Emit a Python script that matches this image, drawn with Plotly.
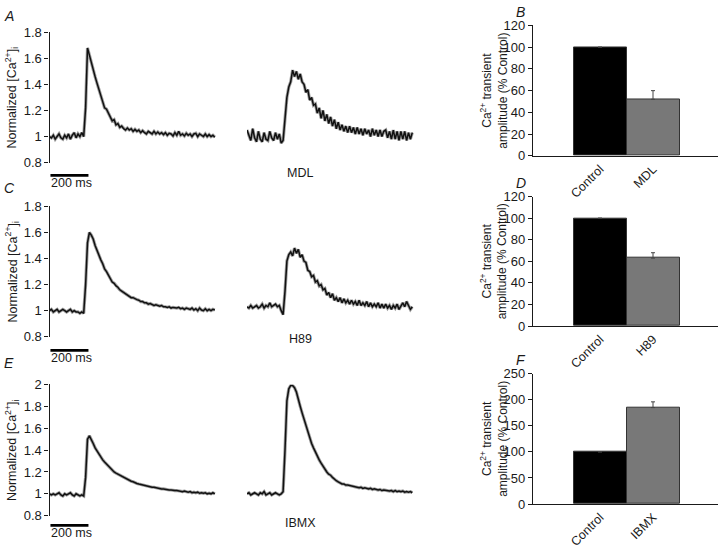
import plotly.graph_objects as go

W, H = 720, 549
DT = 10            # ms per sample
PX_PER_MS = 0.19   # horizontal scale of the traces
FONT = "Liberation Sans, Arial, sans-serif"

# ---------------- data ----------------
ctrl_mdl = [1.00,0.99,1.01,0.98,1.00,1.02,0.99,0.98,1.01,0.99,
            1.02,0.98,1.01,1.03,0.99,1.02,1.00,1.03,1.00,1.22,
            1.68,1.62,1.56,1.52,1.46,1.41,1.36,1.31,1.27,1.22,
            1.21,1.18,1.15,1.12,1.13,1.09,1.10,1.07,1.08,1.06,
            1.05,1.065,1.05,1.06,1.04,1.055,1.04,1.05,1.03,1.045,
            1.03,1.02,1.04,1.03,1.02,1.04,1.02,1.035,1.02,1.03,
            1.015,1.03,1.01,1.025,1.02,1.005,1.03,1.01,1.04,1.01,
            1.02,1.005,1.025,1.01,1.02,1.00,1.02,1.025,1.00,1.02,
            1.01,1.00,1.02,1.00,1.015,1.00,1.01,0.995]
mdl = [1.05,1.01,0.97,1.06,0.99,0.96,1.04,0.98,0.96,1.03,
       0.98,0.97,1.04,0.99,0.97,1.03,0.98,1.02,0.95,0.97,
       1.12,1.30,1.38,1.42,1.51,1.46,1.50,1.44,1.48,1.42,
       1.40,1.34,1.36,1.28,1.30,1.24,1.25,1.18,1.22,1.14,
       1.20,1.12,1.17,1.10,1.15,1.08,1.13,1.06,1.11,1.05,
       1.09,1.04,1.08,1.03,1.08,1.03,1.07,1.02,1.07,1.02,
       1.06,1.01,1.06,1.02,1.05,1.00,1.06,1.01,1.05,1.00,
       1.05,1.00,1.04,1.05,0.99,1.04,0.98,1.05,0.98,1.04,
       0.97,1.04,0.98,1.04,0.97,1.03,0.98,1.03]
ctrl_h89 = [1.00,1.01,0.99,1.00,1.01,0.99,1.00,1.01,1.00,0.99,
            1.00,1.01,0.99,1.00,0.99,0.99,0.98,0.99,0.98,1.20,
            1.52,1.60,1.58,1.55,1.50,1.46,1.43,1.39,1.36,1.32,
            1.30,1.27,1.25,1.22,1.21,1.19,1.18,1.16,1.15,1.14,
            1.13,1.12,1.11,1.10,1.10,1.09,1.085,1.08,1.07,1.07,
            1.06,1.06,1.05,1.055,1.05,1.04,1.045,1.04,1.035,1.04,
            1.03,1.03,1.025,1.03,1.02,1.025,1.02,1.02,1.025,1.015,
            1.02,1.01,1.02,1.015,1.01,1.02,1.005,1.015,1.00,1.02,
            1.005,1.00,1.015,1.00,1.01,1.00,1.01,1.005]
h89 = [1.03,1.02,1.04,1.02,1.03,1.04,1.02,1.03,1.05,1.02,
       1.04,1.03,1.06,1.03,1.04,1.05,1.03,1.04,1.00,0.97,
       1.15,1.38,1.43,1.45,1.42,1.48,1.44,1.47,1.41,1.43,
       1.38,1.37,1.31,1.30,1.26,1.27,1.22,1.23,1.19,1.20,
       1.16,1.17,1.12,1.14,1.10,1.13,1.08,1.10,1.07,1.10,
       1.06,1.09,1.06,1.08,1.05,1.08,1.05,1.07,1.04,1.08,
       1.04,1.06,1.04,1.07,1.03,1.06,1.03,1.05,1.03,1.06,
       1.02,1.05,1.02,1.05,1.02,1.04,1.01,1.04,1.02,1.05,
       1.01,1.04,1.06,1.03,1.07,1.04,1.01,1.03]
ctrl_ibmx = [1.00,0.99,1.00,0.99,1.00,1.01,0.99,0.98,1.00,0.99,
             1.00,1.01,0.99,0.98,1.00,0.99,0.98,0.99,0.98,1.15,
             1.50,1.53,1.50,1.46,1.42,1.39,1.36,1.33,1.31,1.29,
             1.27,1.25,1.24,1.22,1.20,1.19,1.18,1.17,1.16,1.15,
             1.14,1.13,1.125,1.115,1.11,1.10,1.095,1.09,1.085,1.08,
             1.08,1.07,1.07,1.065,1.06,1.06,1.055,1.05,1.05,1.045,
             1.045,1.04,1.04,1.035,1.035,1.03,1.03,1.03,1.025,1.025,
             1.02,1.025,1.02,1.015,1.02,1.01,1.015,1.01,1.015,1.005,
             1.01,1.005,1.01,1.00,1.005,1.00,1.01,1.00]
ibmx = [1.00,1.01,0.99,1.00,1.01,1.00,0.99,1.01,1.00,1.02,
        0.99,1.00,1.01,0.99,1.00,1.01,1.00,0.99,1.00,1.02,
        1.40,1.85,1.96,1.99,1.99,1.97,1.93,1.85,1.80,1.74,
        1.68,1.62,1.57,1.52,1.46,1.42,1.38,1.34,1.31,1.28,
        1.25,1.22,1.20,1.18,1.17,1.15,1.13,1.12,1.11,1.10,
        1.09,1.09,1.08,1.08,1.075,1.07,1.07,1.06,1.06,1.055,
        1.06,1.05,1.055,1.05,1.045,1.05,1.04,1.045,1.04,1.035,
        1.04,1.03,1.035,1.03,1.03,1.025,1.03,1.02,1.03,1.02,
        1.025,1.02,1.025,1.015,1.02,1.015,1.02,1.01]

drug_names = ["MDL", "H89", "IBMX"]
bar_categories = [["Control", "MDL"], ["Control", "H89"], ["Control", "IBMX"]]
bar_values = [[100, 52], [100, 63], [100, 185]]
bar_errors = [[0, 8], [0, 5], [0, 11]]
trace_yticks = [[0.8, 1, 1.2, 1.4, 1.6, 1.8], [0.8, 1, 1.2, 1.4, 1.6, 1.8],
                [0.8, 1, 1.2, 1.4, 1.6, 1.8, 2]]
bar_yticks = [[0, 20, 40, 60, 80, 100, 120], [0, 20, 40, 60, 80, 100, 120],
              [0, 50, 100, 150, 200, 250]]
scale_ms = 200

controls = [ctrl_mdl, ctrl_h89, ctrl_ibmx]
drugs = [mdl, h89, ibmx]

# ---------------- layout geometry (pixels) ----------------
def fx(p):
    return p / W

def fy(p):
    return 1 - p / H

rows = [
    dict(ytop=26, ybot=160, yr=[0.8, 1.8], sb=173, sbt=181, drug=(300, 171),
         btop=19, bbot=153, br=[0, 120], lab1=("A", 2, 9), lab2=("B", 514, 5)),
    dict(ytop=205, ybot=339, yr=[0.8, 1.8], sb=353, sbt=361, drug=(300, 341),
         btop=195, bbot=328, br=[0, 120], lab1=("C", 2, 186), lab2=("D", 514, 181)),
    dict(ytop=388, ybot=523, yr=[0.8, 2.0], sb=533, sbt=541, drug=(300, 530),
         btop=377, bbot=511, br=[0, 250], lab1=("E", 2, 366), lab2=("F", 514, 363)),
]

LEFT_X0, MID_X0, TR_W = 49.5, 247, 170
XR = [0, TR_W / PX_PER_MS]
BAR_X0, BAR_X1, BAR_C0, BAR_UNIT = 533, 718, 600, 53

fig = go.Figure()
layout = dict(width=W, height=H, margin=dict(l=0, r=0, t=0, b=0),
              paper_bgcolor="white", plot_bgcolor="rgba(0,0,0,0)",
              showlegend=False, font=dict(family=FONT, size=13, color="#1a1a1a"),
              bargap=0)
annotations = []

def ann(text, x, y, size=13, italic=False, angle=0, xa="center", ya="middle"):
    if italic:
        text = "<i>" + text + "</i>"
    annotations.append(dict(text=text, x=fx(x), y=fy(y), xref="paper", yref="paper",
                            showarrow=False, font=dict(size=size, family=FONT, color="#1a1a1a"),
                            textangle=angle, xanchor=xa, yanchor=ya))

for r, cfg in enumerate(rows):
    n1, n2, n3 = 3 * r + 1, 3 * r + 2, 3 * r + 3
    nsb = 10 + r
    ydom = [fy(cfg["ybot"]), fy(cfg["ytop"])]
    series = [(controls[r], n1), (drugs[r], n2)]
    for vals, n in series:
        t = [i * DT for i in range(len(vals))]
        fig.add_trace(go.Scatter(x=t, y=vals, mode="lines", xaxis=f"x{n}", yaxis=f"y{n}",
                                 line=dict(color="#a0a0a0", width=3.2), hoverinfo="skip"))
        fig.add_trace(go.Scatter(x=t, y=vals, mode="lines", xaxis=f"x{n}", yaxis=f"y{n}",
                                 line=dict(color="#111111", width=1.5), hoverinfo="skip"))
    # trace axes
    layout[f"xaxis{n1}"] = dict(domain=[fx(LEFT_X0), fx(LEFT_X0 + TR_W)], range=XR,
                                visible=False, anchor=f"y{n1}")
    layout[f"xaxis{n2}"] = dict(domain=[fx(MID_X0), fx(MID_X0 + TR_W)], range=XR,
                                visible=False, anchor=f"y{n2}")
    layout[f"yaxis{n1}"] = dict(domain=ydom, range=cfg["yr"], anchor=f"x{n1}",
                                showline=True, linecolor="#1a1a1a", linewidth=1.2,
                                ticks="outside", ticklen=4, tickwidth=1.2, tickcolor="#1a1a1a",
                                tickvals=trace_yticks[r], showgrid=False, zeroline=False,
                                tickfont=dict(size=13))
    layout[f"yaxis{n2}"] = dict(domain=ydom, range=cfg["yr"], anchor=f"x{n2}", visible=False)
    # scale bar uses the left trace time axis
    layout[f"yaxis{nsb}"] = dict(domain=[fy(cfg["sb"] + 3), fy(cfg["sb"] - 3)], range=[0, 1],
                                 visible=False, anchor=f"x{n1}")
    fig.add_trace(go.Scatter(x=[5, 5 + scale_ms], y=[0.5, 0.5], mode="lines",
                             xaxis=f"x{n1}", yaxis=f"y{nsb}",
                             line=dict(color="black", width=2.8), hoverinfo="skip"))
    ann(f"{scale_ms} ms", 71, cfg["sbt"], size=12.5)
    ann(drug_names[r], cfg["drug"][0], cfg["drug"][1], size=12.5)
    ann("Normalized [Ca<sup>2+</sup>]<sub>i</sub>", 12, (cfg["ytop"] + cfg["ybot"]) / 2,
        size=12.5, angle=-90)
    # bar chart
    fig.add_trace(go.Bar(x=[0, 1], y=bar_values[r], width=[1, 1], xaxis=f"x{n3}", yaxis=f"y{n3}",
                         marker=dict(color=["#000000", "#787878"],
                                     line=dict(color="#333333", width=1)),
                         error_y=dict(type="data", symmetric=False, array=bar_errors[r],
                                      arrayminus=[0, 0], color="#444444", thickness=1, width=2),
                         hoverinfo="skip"))
    layout[f"xaxis{n3}"] = dict(domain=[fx(BAR_X0), fx(BAR_X1)],
                                range=[(BAR_X0 - BAR_C0) / BAR_UNIT, (BAR_X1 - BAR_C0) / BAR_UNIT],
                                anchor=f"y{n3}", showline=True, linecolor="#1a1a1a", linewidth=1.2,
                                tickvals=[0, 1], ticktext=bar_categories[r], tickangle=-45,
                                ticks="", showgrid=False, zeroline=False, tickfont=dict(size=12.5))
    layout[f"yaxis{n3}"] = dict(domain=[fy(cfg["bbot"]), fy(cfg["btop"])], range=cfg["br"],
                                anchor=f"x{n3}", showline=True, linecolor="#1a1a1a", linewidth=1.2,
                                ticks="outside", ticklen=4, tickwidth=1.2, tickcolor="#1a1a1a",
                                tickvals=bar_yticks[r], showgrid=False, zeroline=False,
                                tickfont=dict(size=13))
    ann("Ca<sup>2+</sup> transient<br>amplitude (% Control)", 494,
        (cfg["btop"] + cfg["bbot"]) / 2, size=12, angle=-90)
    # panel letters
    for lab in (cfg["lab1"], cfg["lab2"]):
        ann(lab[0], lab[1], lab[2], size=14, italic=True, xa="left")

layout["annotations"] = annotations
fig.update_layout(**layout)
fig.write_html("out.html", config={"displayModeBar": False},
               post_script="document.body.style.margin='0';document.body.style.overflow='hidden';")
